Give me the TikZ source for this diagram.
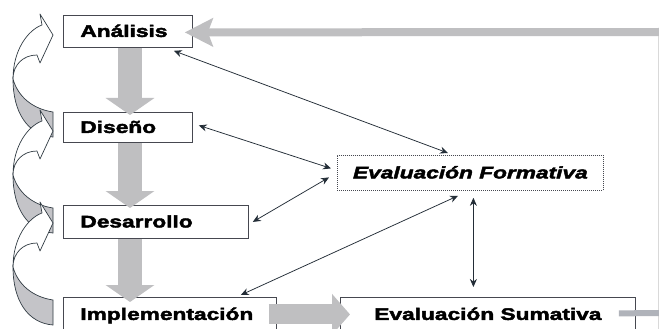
\documentclass[tikz,border=0pt]{standalone}
\usepackage{fontspec}
\usetikzlibrary{arrows.meta}
\newfontfamily\boxfont[FakeStretch=1.36,BoldFeatures={FakeBold=2.6},BoldItalicFeatures={FakeBold=2.6}]{Liberation Sans}
\definecolor{blockgray}{RGB}{191,191,193}
\definecolor{ugray}{RGB}{196,196,200}
\definecolor{uline}{RGB}{50,60,68}
\definecolor{boxline}{RGB}{70,72,80}
\definecolor{thinline}{RGB}{35,45,55}
\definecolor{loopgray}{RGB}{176,179,186}
\tikzset{
  stagebox/.style={draw=boxline, line width=0.8pt, fill=white, inner sep=0pt,
    font=\boxfont\bfseries\fontsize{16.7}{18}\selectfont,
    text height=12pt, text depth=1pt},
  leftbox/.style={stagebox, anchor=north west, align=left, inner xsep=17pt},
  evalbox/.style={stagebox, anchor=north west, align=center},
  blockarrow/.style={draw=blockgray, line width=24pt, -{Triangle[length=17pt,width=48pt]}},
  thinarrow/.style={thinline, line width=0.75pt, {Stealth[length=8pt,width=7pt]}-{Stealth[length=8pt,width=7pt]}},
  uturn/.pic={
    \filldraw[fill=ugray, draw=uline, line width=0.7pt]
      (-40,44) .. controls (-40,78) and (-25,100) .. (0,102) -- (0,77)
      .. controls (-20,74) and (-35,62) .. (-40,44) -- cycle;
    \filldraw[fill=white, draw=uline, line width=0.7pt, line join=round]
      (0,0) -- (-13,-21) -- (-11,-10) .. controls (-25,-5) and (-40,15) .. (-40,44)
      .. controls (-40,30) and (-30,20) .. (-16,20) -- (-13,28) -- cycle;
  }
}
\begin{document}
\begin{tikzpicture}[x=1pt,y=-1pt]
\useasboundingbox (0,0) rectangle (659,329);
\fill[white] (0,0) rectangle (659,329);
\clip (0,0) rectangle (659,329);

% curved feedback arrows on the left
\pic at (53,35) {uturn};
\pic at (53,131) {uturn};
\pic at (53,223) {uturn};

% stage boxes
\node[leftbox, text width=95pt, minimum height=32pt] (an) at (63,15) {Análisis};
\node[leftbox, text width=95pt, minimum height=30pt] (di) at (63,112) {Diseño};
\node[leftbox, text width=151pt, minimum height=33pt] (de) at (63,205) {Desarrollo};
\node[leftbox, text width=179pt, minimum height=34pt] (im) at (63,297) {Implementación};
\node[evalbox, minimum width=266pt, minimum height=35pt, draw=boxline, dash pattern=on 1pt off 1pt] (ef) at (337,155) {\itshape Evaluación Formativa};
\node[evalbox, minimum width=295pt, minimum height=34pt] (es) at (340,297) {Evaluación Sumativa};

% free ends of the feedback loop
\coordinate (loopin) at (659,32);
\coordinate (loopout) at (659,313);
\draw[gray!30, line width=0.8pt] (658,36) -- (658,329);

% grey block arrows
\draw[draw=blockgray, line width=8pt, -{Stealth[length=28pt,width=28pt,inset=5pt]}]
  (loopin) -- ([xshift=-8pt,yshift=-1pt]an.east);
\draw[blockarrow] ([xshift=67pt]an.south west) -- ([xshift=67pt,yshift=-3pt]di.north west);
\draw[blockarrow] ([xshift=67pt]di.south west) -- ([xshift=67pt,yshift=-3pt]de.north west);
\draw[blockarrow] ([xshift=67pt]de.south west) -- ([xshift=67pt,yshift=-5pt]im.north west);
\draw[draw=blockgray, line width=20pt, -{Triangle[length=18pt,width=40pt]}]
  ([xshift=-8pt]im.east) -- ([xshift=10pt]es.west);
\draw[loopgray, line width=6pt] ([xshift=-17pt,yshift=1pt]es.east) -- (loopout);

% thin double arrows
\draw[thinarrow] ([xshift=-19pt,yshift=-3pt]an.south east) -- ([xshift=111pt,yshift=2pt]ef.north west);
\draw[thinarrow] ([xshift=6pt,yshift=2pt]di.east) -- ([xshift=-6pt,yshift=4.5pt]ef.west);
\draw[thinarrow] ([xshift=4pt]de.east) -- ([xshift=-8pt,yshift=-4.5pt]ef.west);
\draw[thinarrow] ([xshift=-36pt,yshift=2pt]im.north east) -- ([xshift=121pt,yshift=-5pt]ef.south west);
\draw[thinarrow] ([xshift=3pt,yshift=-7pt]ef.south) -- ([xshift=-14.5pt,yshift=10pt]es.north);
\end{tikzpicture}
\end{document}
